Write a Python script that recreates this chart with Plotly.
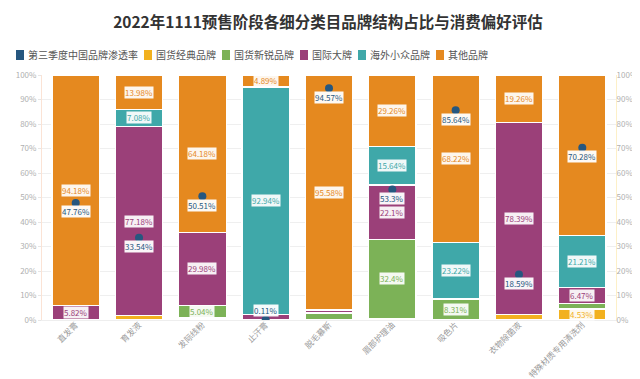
import plotly.graph_objects as go

categories = ["直发膏", "育发液", "发际线粉", "止汗膏", "脱毛慕斯", "眉部护理油", "吸色片", "衣物除菌液", "特殊材质专用清洗剂"]
series_names = ["国货经典品牌", "国货新锐品牌", "国际大牌", "海外小众品牌", "其他品牌"]
classic = [0.0, 1.76, 0.80, 0.0, 0.0, 0.60, 0.25, 2.35, 4.53]
newcomer = [0.0, 0.0, 5.04, 0.0, 2.90, 32.40, 8.31, 0.0, 2.31]
intl = [5.82, 77.18, 29.98, 2.17, 1.00, 22.10, 0.0, 78.39, 6.47]
overseas = [0.0, 7.08, 0.0, 92.94, 0.52, 15.64, 23.22, 0.0, 21.21]
others = [94.18, 13.98, 64.18, 4.89, 95.58, 29.26, 68.22, 19.26, 65.48]
penetration = [47.76, 33.54, 50.51, 0.11, 94.57, 53.3, 85.64, 18.59, 70.28]
pen_name = "第三季度中国品牌渗透率"
y_ticks = [0, 10, 20, 30, 40, 50, 60, 70, 80, 90, 100]
y_tick_labels = [f"{t}%" for t in y_ticks]

colors = ["#f2b11f", "#7cb257", "#9b4079", "#3fa8a9", "#e5891f"]
dot_color = "#26577f"
series = [classic, newcomer, intl, overseas, others]

W, H = 640, 379
ML, MR, MT, MB = 34, 32, 67, 67
FONT = "Noto Sans CJK SC"

def px_x(px):
    return (px - ML) / (W - ML - MR)

def px_y(py):
    return 1 - (py - MT) / (H - MT - MB)

fig = go.Figure()
for name, vals, col in zip(series_names, series, colors):
    fig.add_trace(go.Bar(x=categories, y=vals, name=name, showlegend=False,
                         marker=dict(color=col, line=dict(color="white", width=1.2))))

fig.add_trace(go.Scatter(x=categories, y=penetration, mode="markers", name=pen_name, showlegend=False,
                         marker=dict(color=dot_color, size=8)))
fig.add_trace(go.Scatter(x=categories, y=penetration, mode="markers", yaxis="y2", showlegend=False,
                         marker=dict(color="rgba(0,0,0,0)", size=1), hoverinfo="skip"))

# segment labels
for i, cat in enumerate(categories):
    base = 0.0
    dot_label_y = penetration[i] - 3.5
    for vals, col in zip(series, colors):
        v = vals[i]
        center = base + v / 2
        base += v
        if v < 4 or abs(center - dot_label_y) < 4:
            continue
        fig.add_annotation(x=cat, y=center, text=f"{v:g}%", showarrow=False,
                           font=dict(size=8, color=col, family=FONT),
                           bgcolor="rgba(255,255,255,0.92)", borderpad=0)
    p = penetration[i]
    fig.add_annotation(x=cat, y=p, text=f"{p:g}%", showarrow=False, yshift=(-9 if p > 3 else 9),
                       font=dict(size=8, color=dot_color, family=FONT),
                       bgcolor="rgba(255,255,255,0.95)", borderpad=0)

# custom legend (square swatches)
legend_names = [pen_name] + series_names
legend_colors = [dot_color] + colors
LEG_FS = 10
leg_y = 47
x = 8
for name, col in zip(legend_names, legend_colors):
    fig.add_shape(type="rect", xref="paper", yref="paper",
                  x0=px_x(x), x1=px_x(x + 8), y0=px_y(leg_y + 5), y1=px_y(leg_y - 5),
                  fillcolor=col, line=dict(width=0))
    fig.add_annotation(xref="paper", yref="paper", x=px_x(x + 10), y=px_y(leg_y), text=name,
                       showarrow=False, xanchor="left", yanchor="middle",
                       font=dict(size=LEG_FS, color="#555", family=FONT))
    x += 8 + 3 + len(name) * LEG_FS + 7

axis_common = dict(range=[0, 100], tickvals=y_ticks, ticktext=y_tick_labels, tickfont=dict(size=8, color="#b0b0b0"),
                   zeroline=False, automargin=False)

fig.update_layout(
    barmode="stack",
    bargap=0.25,
    width=W, height=H,
    margin=dict(l=ML, r=MR, t=MT, b=MB, autoexpand=False),
    paper_bgcolor="white", plot_bgcolor="white",
    font=dict(family=FONT, color="#555"),
    showlegend=False,
    title=dict(text="<b>2022年1111预售阶段各细分类目品牌结构占比与消费偏好评估</b>", x=0.5, xanchor="center",
               y=0.975, yanchor="top", font=dict(size=15.5, color="#333")),
    xaxis=dict(type="category", tickangle=-45, tickfont=dict(size=8.3, color="#9a9a9a"), showgrid=False,
               showline=True, linecolor="#eeeeee", automargin=False, ticks="", ticklabelstandoff=-4),
    yaxis=dict(showgrid=True, gridcolor="#efefef", showline=True, linecolor="#fbe3d5",
               ticks="outside", ticklen=3, tickcolor="#e6e6e6", **axis_common),
    yaxis2=dict(overlaying="y", side="right", showgrid=False, showline=True, linecolor="#fdf0c8",
                ticks="", ticklabelstandoff=-2, **axis_common),
)

fig.write_html("out.html")
